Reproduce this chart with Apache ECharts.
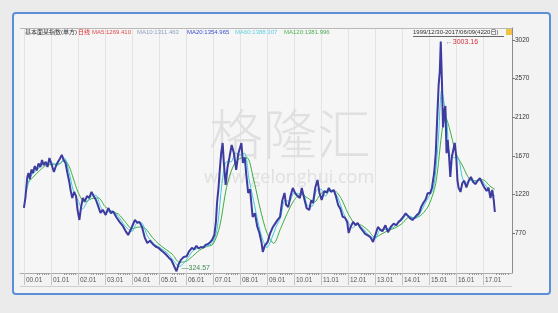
<!DOCTYPE html>
<html><head><meta charset="utf-8">
<script src="https://cdn.jsdelivr.net/npm/echarts@6/dist/echarts.min.js"></script>
<style>html,body{margin:0;padding:0;background:#ebebeb;}#c{width:558px;height:313px;}</style>
</head><body><div id="c"></div>
<script>
// ---- data ----
const closeDates = ['1999-12-30','2000-01-20','2000-02-15','2000-03-01','2000-03-20','2000-04-10','2000-05-01','2000-05-25','2000-06-20','2000-07-15','2000-08-10','2000-09-01','2000-09-25','2000-10-20','2000-11-15','2000-12-10','2001-01-05','2001-02-10','2001-03-10','2001-04-05','2001-05-01','2001-05-25','2001-06-20','2001-07-15','2001-08-10','2001-09-05','2001-09-25','2001-10-15','2001-11-10','2001-12-05','2001-12-25','2002-01-20','2002-02-10','2002-03-05','2002-04-01','2002-05-01','2002-06-01','2002-07-01','2002-08-01','2002-09-01','2002-10-01','2002-11-01','2002-12-01','2003-01-10','2003-02-15','2003-03-20','2003-04-20','2003-06-01','2003-07-15','2003-09-01','2003-10-15','2003-11-10','2003-12-20','2004-02-10','2004-03-10','2004-04-10','2004-05-15','2004-06-20','2004-07-25','2004-09-01','2004-10-10','2004-11-20','2004-12-25','2005-02-10','2005-03-10','2005-04-10','2005-05-15','2005-06-15','2005-07-15','2005-08-10','2005-08-25','2005-09-20','2005-10-25','2005-12-01','2006-01-10','2006-02-15','2006-03-20','2006-04-20','2006-05-20','2006-06-20','2006-07-20','2006-08-20','2006-09-20','2006-10-20','2006-11-20','2006-12-20','2007-01-20','2007-02-10','2007-02-25','2007-03-15','2007-04-01','2007-04-20','2007-05-10','2007-05-25','2007-06-20','2007-07-15','2007-08-10','2007-09-10','2007-10-10','2007-11-10','2007-12-10','2008-01-20','2008-02-10','2008-03-05','2008-03-25','2008-04-20','2008-05-15','2008-06-20','2008-07-20','2008-08-20','2008-09-20','2008-10-20','2008-11-05','2008-12-01','2009-01-10','2009-02-10','2009-03-20','2009-04-20','2009-05-20','2009-06-25','2009-07-25','2009-08-25','2009-09-15','2009-10-15','2009-11-15','2009-12-15','2010-01-20','2010-02-20','2010-03-20','2010-04-15','2010-05-15','2010-06-20','2010-07-25','2010-08-20','2010-09-15','2010-10-15','2010-11-15','2010-12-10','2011-01-10','2011-02-15','2011-03-20','2011-04-15','2011-05-15','2011-06-20','2011-07-20','2011-08-20','2011-09-20','2011-10-20','2011-11-20','2011-12-20','2012-01-10','2012-02-10','2012-03-10','2012-04-10','2012-05-10','2012-06-10','2012-07-10','2012-08-20','2012-10-01','2012-11-01','2012-12-05','2013-01-10','2013-02-10','2013-03-10','2013-04-10','2013-05-20','2013-06-25','2013-08-01','2013-09-10','2013-10-15','2013-11-15','2013-12-15','2014-01-20','2014-02-20','2014-03-15','2014-04-20','2014-05-20','2014-06-20','2014-07-20','2014-08-20','2014-09-20','2014-10-15','2014-11-15','2014-12-15','2015-01-15','2015-02-10','2015-03-10','2015-04-01','2015-04-20','2015-05-10','2015-05-25','2015-06-08','2015-06-25','2015-07-08','2015-07-25','2015-08-10','2015-08-25','2015-09-10','2015-09-30','2015-10-15','2015-11-05','2015-11-25','2015-12-15','2016-01-05','2016-01-20','2016-02-05','2016-03-01','2016-03-25','2016-04-20','2016-05-20','2016-06-20','2016-07-20','2016-08-20','2016-09-20','2016-10-20','2016-11-20','2016-12-20','2017-01-15','2017-02-20','2017-03-15','2017-04-10','2017-05-05','2017-05-25','2017-06-09'];
const closeValues = [1062,1180,1420,1470,1400,1510,1470,1550,1500,1580,1540,1621,1560,1600,1540,1645,1580,1482,1560,1600,1640,1680,1620,1586,1470,1365,1260,1178,1249,1200,1040,922,1060,1178,1140,1200,1180,1249,1200,1155,1080,1004,1040,980,1062,1000,1020,957,900,850,780,747,820,922,890,900,840,720,654,680,640,610,596,560,540,514,480,456,400,350,324.57,400,460,491,500,560,596,580,620,590,607,600,630,640,660,689,750,900,1120,1300,1500,1700,1820,1600,1330,1540,1650,1796,1700,1505,1700,1820,1586,1650,1450,1237,1280,957,1000,850,770,650,549,620,666,760,840,880,920,957,1150,1237,1100,1073,1200,1295,1230,1200,1178,1295,1180,1060,1039,1150,1120,1300,1388,1240,1155,1260,1240,1295,1250,1272,1200,1097,1050,960,950,899,770,850,900,860,887,840,806,760,740,720,666,760,840,810,790,860,780,840,880,860,900,922,960,1000,1015,940,922,950,980,1004,1080,1120,1160,1237,1230,1295,1470,1700,2100,2500,2650,3003.16,2500,2000,2200,2250,1700,1855,1650,1423,1650,1738,1820,1650,1388,1300,1249,1350,1380,1300,1380,1423,1365,1340,1380,1411,1350,1307,1260,1300,1178,1272,1150,1015];

const ma60Dates = ['2000-02-01','2000-04-01','2000-07-01','2000-10-01','2001-01-01','2001-04-01','2001-07-01','2001-09-01','2001-11-01','2002-01-01','2002-03-01','2002-05-01','2002-07-01','2002-09-01','2002-11-01','2003-01-01','2003-04-01','2003-07-01','2003-10-01','2004-01-01','2004-03-01','2004-05-01','2004-08-01','2004-11-01','2005-02-01','2005-05-01','2005-08-01','2005-10-01','2006-01-01','2006-04-01','2006-07-01','2006-10-01','2007-01-01','2007-03-01','2007-05-01','2007-07-01','2007-09-01','2007-11-01','2008-01-01','2008-03-01','2008-05-01','2008-07-01','2008-09-01','2008-11-01','2009-01-01','2009-03-01','2009-05-01','2009-07-01','2009-09-01','2009-11-01','2010-01-01','2010-03-01','2010-05-01','2010-07-01','2010-09-01','2010-11-01','2011-01-01','2011-03-01','2011-05-01','2011-07-01','2011-09-01','2011-11-01','2012-01-01','2012-03-01','2012-05-01','2012-07-01','2012-09-01','2012-11-01','2013-01-01','2013-03-01','2013-05-01','2013-07-01','2013-09-01','2013-11-01','2014-01-01','2014-03-01','2014-05-01','2014-07-01','2014-09-01','2014-11-01','2015-01-01','2015-03-01','2015-05-01','2015-06-20','2015-07-20','2015-09-01','2015-10-01','2015-12-01','2016-02-01','2016-04-01','2016-06-01','2016-08-01','2016-10-01','2016-12-01','2017-02-01','2017-04-01','2017-06-09'];
const ma60Values = [1250,1430,1510,1580,1590,1560,1640,1480,1260,1150,1050,1130,1200,1210,1080,1010,1030,960,850,790,880,890,730,640,590,530,430,380,450,560,600,615,660,850,1350,1600,1600,1700,1680,1700,1400,1150,900,700,600,700,840,950,1150,1140,1240,1230,1230,1090,1080,1270,1280,1200,1270,1250,1150,1000,900,830,870,840,780,730,700,800,810,820,830,880,920,980,960,940,1000,1100,1200,1290,1800,2430,2300,2050,1700,1650,1640,1400,1350,1390,1370,1390,1330,1260,1200];

const ma120Dates = ['2000-02-15','2000-05-01','2000-08-01','2000-11-01','2001-02-01','2001-05-01','2001-07-01','2001-09-01','2001-11-01','2002-01-01','2002-04-01','2002-07-01','2002-10-01','2003-01-01','2003-04-01','2003-07-01','2003-10-01','2004-01-01','2004-04-01','2004-07-01','2004-10-01','2005-01-01','2005-04-01','2005-07-01','2005-10-01','2006-01-01','2006-04-01','2006-07-01','2006-10-01','2007-01-01','2007-04-01','2007-07-01','2007-10-01','2008-01-01','2008-04-01','2008-07-01','2008-10-01','2009-01-01','2009-04-01','2009-07-01','2009-10-01','2010-01-01','2010-04-01','2010-07-01','2010-10-01','2011-01-01','2011-04-01','2011-07-01','2011-10-01','2012-01-01','2012-04-01','2012-07-01','2012-10-01','2013-01-01','2013-04-01','2013-07-01','2013-10-01','2014-01-01','2014-04-01','2014-07-01','2014-10-01','2015-01-01','2015-04-01','2015-07-01','2015-08-15','2015-10-01','2016-01-01','2016-04-01','2016-07-01','2016-10-01','2017-01-01','2017-04-01','2017-06-09'];
const ma120Values = [1350,1420,1500,1560,1570,1580,1620,1550,1400,1250,1130,1170,1180,1080,1020,990,900,820,840,820,720,640,580,520,430,440,500,570,610,640,850,1300,1550,1640,1650,1400,1050,770,650,820,1000,1150,1220,1180,1130,1230,1260,1260,1170,1000,880,860,800,720,760,800,830,880,950,950,990,1100,1350,2000,2110,2000,1700,1550,1400,1380,1390,1320,1280];

const yTickValues = [770,1220,1670,2120,2570,3020];
const yearTicks = [2000,2001,2002,2003,2004,2005,2006,2007,2008,2009,2010,2011,2012,2013,2014,2015,2016,2017];

const indexName = '基本面某指数(单方)';
const periodName = '日线';
const maTexts = ['MA5:1269.410','MA10:1311.463','MA20:1354.965','MA60:1388.307','MA120:1381.996'];
const rangeText = '1999/12/30-2017/06/09(4220日)';

// ---- helpers ----
function toYear(s){const p=s.split('-').map(Number);return p[0]+((p[1]-1)*30.44+(p[2]-1))/365.25;}
function pairs(ds,vs){return ds.map((d,i)=>[toYear(d),vs[i]]);}
const closeData = pairs(closeDates, closeValues);
let hi=0, lo=0;
closeValues.forEach((v,i)=>{ if(v>closeValues[hi]) hi=i; if(v<closeValues[lo]) lo=i; });
const monthTicks=[];
yearTicks.forEach(y=>{for(let m=6;m<12;m++) monthTicks.push(y+m/12);});

const FONT='Liberation Sans';
const chart = echarts.init(document.getElementById('c'), null, {renderer:'canvas'});
const hdrY = 32;
const hdr = (text,x,color)=>({type:'text',x:x,y:hdrY,z:5,style:{text:text,fill:color,font:'6px "'+FONT+'", "Noto Sans CJK SC"',verticalAlign:'middle'}});
chart.setOption({
  backgroundColor:'#ebebeb',
  animation:false,
  grid:{left:20,right:46,top:28,bottom:40,show:true,backgroundColor:'#f6f6f6',borderWidth:0},
  xAxis:[{
    type:'value',min:1999.852,max:2018.074,
    axisLine:{show:true,lineStyle:{color:'#aaaaaa',width:1}},
    axisTick:{show:true,customValues:yearTicks,length:12,inside:false,lineStyle:{color:'#c4c4c4'}},
    axisLabel:{customValues:yearTicks,fontSize:6.5,fontFamily:FONT,color:'#555',align:'left',margin:4,padding:[0,0,0,2],
      formatter:v=>String(Math.round(v)%100).padStart(2,'0')+'.01'},
    splitLine:{show:true,lineStyle:{color:'#e3e3e3',width:1}}
  },{
    type:'value',min:1999.852,max:2018.074,position:'bottom',
    axisLine:{show:false},
    axisTick:{show:true,customValues:monthTicks,length:2,lineStyle:{color:'#999'}},
    axisLabel:{show:false},splitLine:{show:false}
  }],
  yAxis:{
    type:'value',position:'right',min:304,max:3160,
    axisLine:{show:true,lineStyle:{color:'#8c8c8c'}},
    axisTick:{show:true,customValues:yTickValues,length:3,lineStyle:{color:'#777'}},
    axisLabel:{customValues:yTickValues,fontSize:6.5,fontFamily:FONT,color:'#333',margin:3,formatter:v=>String(v)},
    splitLine:{show:false}
  },
  graphic:[
    {type:'rect',shape:{x:13,y:13,width:537,height:281,r:3},style:{fill:'#f3f3f3',stroke:'#5b8fd8',lineWidth:2},z:-10,silent:true},
    {type:'text',x:290,y:134,z:1,style:{text:'格隆汇',fill:'#e0e0e0',font:'300 54px "Noto Sans CJK SC"',align:'center',verticalAlign:'middle'}},
    {type:'text',x:289,y:178,z:1,style:{text:'www.gelonghui.com',fill:'#e0e0e0',font:'18px "Open Sans"',align:'center',verticalAlign:'middle'}},
    {type:'line',shape:{x1:20,y1:28.5,x2:512,y2:28.5},style:{stroke:'#b8b8b8',lineWidth:1},z:5},
    {type:'line',shape:{x1:20,y1:286.5,x2:512,y2:286.5},style:{stroke:'#cfcfcf',lineWidth:1},z:5},
    hdr(indexName,25,'#333'),
    hdr(periodName,78,'#e02a2a'),
    hdr(maTexts[0],92,'#e04848'),
    hdr(maTexts[1],137,'#8ea0c2'),
    hdr(maTexts[2],187,'#3a4fd0'),
    hdr(maTexts[3],235,'#62d0e0'),
    hdr(maTexts[4],284,'#4fae4f'),
    hdr(rangeText,413,'#333'),
    {type:'line',shape:{x1:413,y1:36.5,x2:504,y2:36.5},style:{stroke:'#444',lineWidth:0.8},z:5},
    {type:'rect',shape:{x:506,y:29,width:6,height:6},style:{fill:'#f2c14a'},z:5}
  ],
  series:[
    {type:'line',data:pairs(ma120Dates,ma120Values),showSymbol:false,smooth:0.3,lineStyle:{color:'#3fae3f',width:1},z:2},
    {type:'line',data:pairs(ma60Dates,ma60Values),showSymbol:false,smooth:0.3,lineStyle:{color:'#3ec9dc',width:1},z:3},
    {type:'line',data:closeData,showSymbol:false,lineStyle:{color:'#3d3aa0',width:2},z:4,
      markPoint:{symbol:'circle',symbolSize:0,data:[
        {coord:closeData[hi],label:{show:true,position:'right',offset:[0,1],formatter:'{a|←}{b|'+closeValues[hi].toFixed(2)+'}',
          rich:{a:{color:'#888',fontSize:7},b:{color:'#d4303a',fontSize:7,fontFamily:FONT}}}},
        {coord:closeData[lo],label:{show:true,position:'right',offset:[0,-3],formatter:'{a|—}{b|'+closeValues[lo].toFixed(2)+'}',
          rich:{a:{color:'#3d8a55',fontSize:7},b:{color:'#3d8a55',fontSize:7,fontFamily:FONT}}}}
      ]}}
  ]
});
</script></body></html>
